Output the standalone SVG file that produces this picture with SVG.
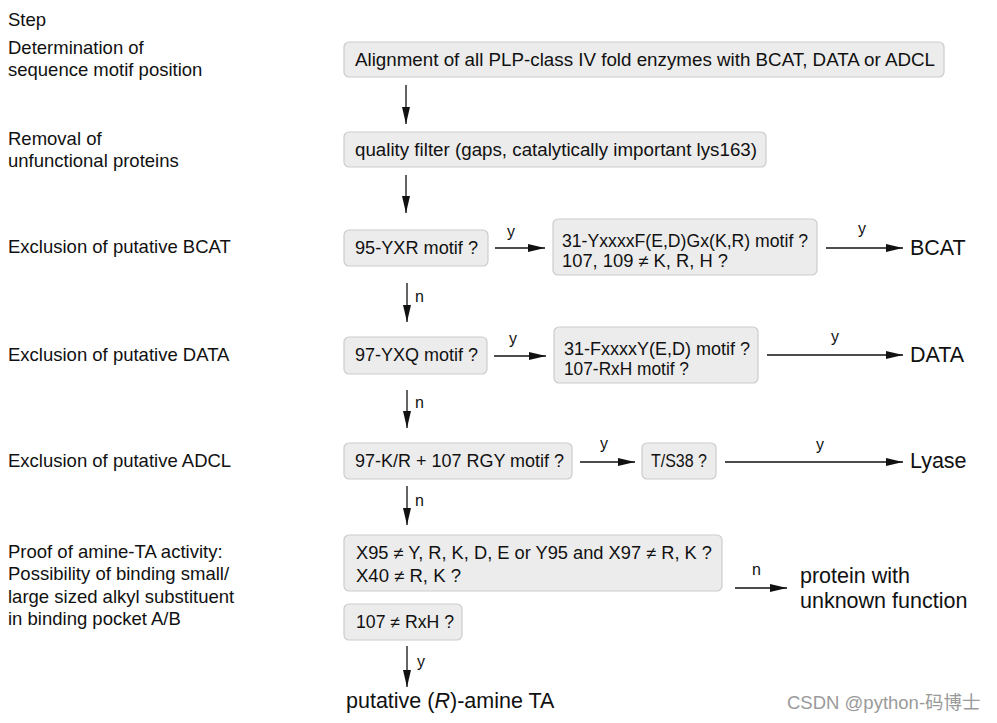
<svg xmlns="http://www.w3.org/2000/svg" width="997" height="723" viewBox="0 0 997 723">
<style>
text{font-family:"Liberation Sans",Arial,sans-serif;fill:#111}
.step{font-size:18.5px}
.bt{font-size:17.5px}
.end{font-size:21.5px}
.lbl{font-size:16px}
.box{fill:#ececec;stroke:#cccccc;stroke-width:1.2}
.ln{stroke:#111;stroke-width:1.3;fill:none;marker-end:url(#ah)}
.wm{font-family:"Liberation Sans","Noto Sans CJK SC",sans-serif;font-size:18.5px;fill:#9a9a9a}
</style>
<defs>
<marker id="ah" markerUnits="userSpaceOnUse" markerWidth="18" markerHeight="10" refX="17" refY="4" orient="auto">
<path d="M0,0 L17,4 L0,8 Z" fill="#111"/>
</marker>
</defs>
<rect width="997" height="723" fill="#fff"/>
<g id="steps">
<text class="step" x="8" y="26">Step</text>
<text class="step" x="8" y="54">Determination of</text>
<text class="step" x="8" y="76">sequence motif position</text>
<text class="step" x="8" y="145">Removal of</text>
<text class="step" x="8" y="167">unfunctional proteins</text>
<text class="step" x="8" y="253">Exclusion of putative BCAT</text>
<text class="step" x="8" y="361">Exclusion of putative DATA</text>
<text class="step" x="8" y="467">Exclusion of putative ADCL</text>
<text class="step" x="8" y="558">Proof of amine-TA activity:</text>
<text class="step" x="8" y="580">Possibility of binding small/</text>
<text class="step" x="8" y="603">large sized alkyl substituent</text>
<text class="step" x="8" y="625">in binding pocket A/B</text>
</g>
<g id="n-align"><rect class="box" x="344" y="42" width="600" height="35" rx="5"/><text class="bt" x="355" y="66" textLength="580" lengthAdjust="spacingAndGlyphs">Alignment of all PLP-class IV fold enzymes with BCAT, DATA or ADCL</text></g>
<g id="n-quality"><rect class="box" x="344" y="132" width="422" height="35" rx="5"/><text class="bt" x="355" y="156" textLength="402" lengthAdjust="spacingAndGlyphs">quality filter (gaps, catalytically important lys163)</text></g>
<g id="n-yxr"><rect class="box" x="344" y="230" width="144" height="36" rx="5"/><text class="bt" x="355" y="254" textLength="123" lengthAdjust="spacingAndGlyphs">95-YXR motif ?</text></g>
<g id="n-bcatmotif"><rect class="box" x="553" y="219" width="264" height="56" rx="5"/><text class="bt" x="562" y="247" textLength="246" lengthAdjust="spacingAndGlyphs">31-YxxxxF(E,D)Gx(K,R) motif ?</text><text class="bt" x="562" y="267" textLength="166" lengthAdjust="spacingAndGlyphs">107, 109 ≠ K, R, H ?</text></g>
<g id="n-yxq"><rect class="box" x="344" y="337" width="143" height="37" rx="5"/><text class="bt" x="355" y="361" textLength="123" lengthAdjust="spacingAndGlyphs">97-YXQ motif ?</text></g>
<g id="n-datamotif"><rect class="box" x="554" y="327" width="204" height="56" rx="5"/><text class="bt" x="564" y="355" textLength="186" lengthAdjust="spacingAndGlyphs">31-FxxxxY(E,D) motif ?</text><text class="bt" x="564" y="375" textLength="125" lengthAdjust="spacingAndGlyphs">107-RxH motif ?</text></g>
<g id="n-rgy"><rect class="box" x="344" y="443" width="228" height="36" rx="5"/><text class="bt" x="355" y="467" textLength="209" lengthAdjust="spacingAndGlyphs">97-K/R + 107 RGY motif ?</text></g>
<g id="n-ts38"><rect class="box" x="642" y="443" width="74" height="36" rx="5"/><text class="bt" x="651" y="467" textLength="56" lengthAdjust="spacingAndGlyphs">T/S38 ?</text></g>
<g id="n-x95"><rect class="box" x="344" y="535" width="378" height="56" rx="5"/><text class="bt" x="356" y="559" textLength="356" lengthAdjust="spacingAndGlyphs">X95 ≠ Y, R, K, D, E or Y95 and X97 ≠ R, K ?</text><text class="bt" x="356" y="582" textLength="105" lengthAdjust="spacingAndGlyphs">X40 ≠ R, K ?</text></g>
<g id="n-107"><rect class="box" x="344" y="604" width="118" height="36" rx="5"/><text class="bt" x="356" y="628" textLength="98" lengthAdjust="spacingAndGlyphs">107 ≠ RxH ?</text></g>
<g id="n-bcat"><text class="end" x="910" y="255">BCAT</text></g>
<g id="n-data"><text class="end" x="910" y="362">DATA</text></g>
<g id="n-lyase"><text class="end" x="910" y="468">Lyase</text></g>
<g id="n-unknown"><text class="end" x="800" y="583">protein with</text><text class="end" x="800" y="608">unknown function</text></g>
<g id="n-rta"><text class="end" x="346" y="708">putative (<tspan font-style="italic">R</tspan>)-amine TA</text></g>
<g id="connectors">
<line class="ln" x1="406" y1="85" x2="406" y2="124"/>
<line class="ln" x1="406" y1="175" x2="406" y2="213"/>
<line class="ln" x1="495" y1="248" x2="545" y2="248"/>
<line class="ln" x1="826" y1="248" x2="903" y2="248"/>
<line class="ln" x1="407" y1="283" x2="407" y2="322"/>
<line class="ln" x1="494" y1="356" x2="546" y2="356"/>
<line class="ln" x1="767" y1="355" x2="903" y2="355"/>
<line class="ln" x1="407" y1="390" x2="407" y2="428"/>
<line class="ln" x1="580" y1="462" x2="635" y2="462"/>
<line class="ln" x1="725" y1="462" x2="903" y2="462"/>
<line class="ln" x1="407" y1="486" x2="407" y2="525"/>
<line class="ln" x1="735" y1="588" x2="787" y2="588"/>
<line class="ln" x1="407" y1="646" x2="407" y2="687"/>
<text class="lbl" x="507" y="237">y</text>
<text class="lbl" x="858" y="234">y</text>
<text class="lbl" x="415" y="302">n</text>
<text class="lbl" x="509" y="344">y</text>
<text class="lbl" x="831" y="342">y</text>
<text class="lbl" x="415" y="408">n</text>
<text class="lbl" x="600" y="449">y</text>
<text class="lbl" x="816" y="450">y</text>
<text class="lbl" x="415" y="506">n</text>
<text class="lbl" x="752" y="575">n</text>
<text class="lbl" x="417" y="667">y</text>
</g>
<text class="wm" x="787" y="709">CSDN @python-码博士</text>
</svg>
